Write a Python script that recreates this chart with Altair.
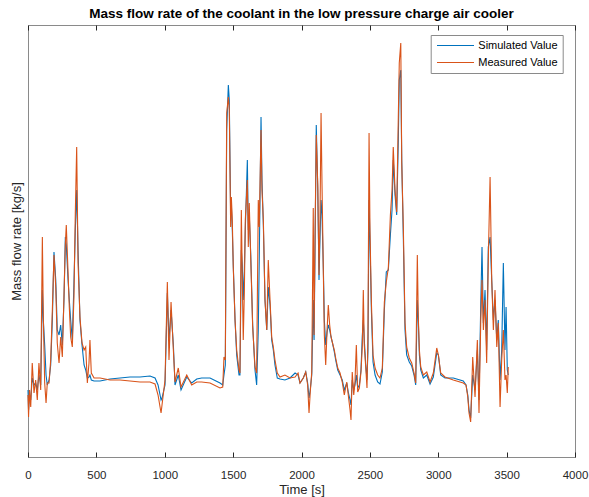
import altair as alt
import pandas as pd

# ---- data ----
time_s = [0, 4, 11, 20, 31, 44, 56, 68, 80, 93,
          105, 112, 122, 132, 141, 154, 166, 178, 190, 203,
          214, 227, 239, 251, 263, 273, 280, 293, 302, 312,
          324, 336, 346, 356, 366, 380, 395, 410, 422, 434,
          446, 453, 463, 483, 527, 600, 673, 746, 819, 892,
          929, 951, 973, 980, 1002, 1019, 1031, 1046, 1063, 1075,
          1099, 1119, 1161, 1197, 1234, 1270, 1331, 1404, 1424, 1433,
          1443, 1453, 1465, 1472, 1482, 1487, 1494, 1501, 1514, 1526,
          1543, 1550, 1560, 1567, 1574, 1582, 1589, 1604, 1611, 1618,
          1629, 1643, 1660, 1672, 1684, 1691, 1704, 1711, 1721, 1733,
          1746, 1757, 1770, 1782, 1794, 1806, 1823, 1843, 1879, 1916,
          1953, 1975, 1989, 2013, 2031, 2045, 2055, 2064, 2075, 2086,
          2092, 2099, 2108, 2119, 2128, 2135, 2143, 2150, 2160, 2167,
          2177, 2187, 2196, 2206, 2216, 2225, 2240, 2250, 2265, 2282,
          2298, 2313, 2331, 2342, 2355, 2362, 2371, 2382, 2391, 2401,
          2411, 2423, 2435, 2445, 2452, 2459, 2470, 2479, 2486, 2494,
          2501, 2511, 2523, 2538, 2557, 2574, 2591, 2606, 2620, 2635,
          2650, 2662, 2671, 2684, 2696, 2708, 2715, 2726, 2733, 2745,
          2757, 2769, 2788, 2806, 2823, 2835, 2847, 2854, 2862, 2872,
          2891, 2916, 2940, 2964, 2989, 3001, 3018, 3049, 3110, 3183,
          3203, 3216, 3225, 3237, 3252, 3269, 3286, 3298, 3311, 3320,
          3330, 3342, 3354, 3366, 3379, 3391, 3403, 3415, 3428, 3439,
          3452, 3464, 3476, 3488, 3496, 3505, 3512]

measured_kg_s = [0.062, 0.040, 0.067, 0.050, 0.094, 0.064, 0.077, 0.057, 0.094, 0.067,
                 0.220, 0.140, 0.074, 0.054, 0.074, 0.074, 0.097, 0.147, 0.202, 0.170,
                 0.114, 0.094, 0.120, 0.100, 0.160, 0.212, 0.232, 0.184, 0.150, 0.120,
                 0.110, 0.160, 0.244, 0.310, 0.194, 0.140, 0.114, 0.107, 0.110, 0.074,
                 0.094, 0.117, 0.084, 0.079, 0.079, 0.077, 0.077, 0.076, 0.075, 0.075,
                 0.073, 0.062, 0.044, 0.052, 0.077, 0.175, 0.097, 0.155, 0.107, 0.075,
                 0.089, 0.070, 0.082, 0.072, 0.075, 0.075, 0.074, 0.069, 0.070, 0.100,
                 0.097, 0.344, 0.360, 0.347, 0.230, 0.260, 0.237, 0.190, 0.137, 0.107,
                 0.087, 0.084, 0.247, 0.180, 0.117, 0.164, 0.237, 0.277, 0.210, 0.254,
                 0.197, 0.130, 0.090, 0.084, 0.257, 0.230, 0.327, 0.267, 0.237, 0.157,
                 0.127, 0.197, 0.157, 0.120, 0.110, 0.097, 0.084, 0.080, 0.082, 0.079,
                 0.080, 0.084, 0.074, 0.079, 0.085, 0.072, 0.044, 0.065, 0.085, 0.249,
                 0.122, 0.222, 0.322, 0.272, 0.182, 0.235, 0.344, 0.272, 0.182, 0.122,
                 0.092, 0.127, 0.152, 0.132, 0.120, 0.115, 0.107, 0.099, 0.089, 0.084,
                 0.075, 0.062, 0.075, 0.062, 0.047, 0.037, 0.085, 0.062, 0.075, 0.112,
                 0.065, 0.069, 0.085, 0.112, 0.167, 0.112, 0.089, 0.069, 0.122, 0.324,
                 0.225, 0.155, 0.102, 0.089, 0.082, 0.079, 0.089, 0.155, 0.175, 0.189,
                 0.242, 0.267, 0.310, 0.267, 0.245, 0.340, 0.394, 0.414, 0.294, 0.227,
                 0.134, 0.110, 0.099, 0.094, 0.084, 0.074, 0.202, 0.140, 0.107, 0.090,
                 0.082, 0.085, 0.075, 0.084, 0.109, 0.102, 0.084, 0.080, 0.077, 0.074,
                 0.072, 0.060, 0.044, 0.035, 0.100, 0.060, 0.117, 0.044, 0.137, 0.177,
                 0.127, 0.157, 0.094, 0.197, 0.280, 0.177, 0.127, 0.167, 0.110, 0.134,
                 0.050, 0.097, 0.127, 0.077, 0.082, 0.064, 0.090]

simulated_kg_s = [0.067, 0.047, 0.062, 0.057, 0.079, 0.072, 0.074, 0.067, 0.082, 0.072,
                  0.167, 0.137, 0.112, 0.082, 0.072, 0.077, 0.092, 0.137, 0.205, 0.177,
                  0.127, 0.122, 0.132, 0.112, 0.157, 0.220, 0.212, 0.177, 0.157, 0.137,
                  0.117, 0.174, 0.227, 0.267, 0.207, 0.137, 0.112, 0.092, 0.087, 0.079,
                  0.080, 0.082, 0.077, 0.076, 0.076, 0.078, 0.079, 0.080, 0.080, 0.081,
                  0.079, 0.072, 0.057, 0.059, 0.072, 0.164, 0.117, 0.147, 0.112, 0.072,
                  0.082, 0.067, 0.080, 0.074, 0.078, 0.079, 0.079, 0.074, 0.072, 0.082,
                  0.092, 0.327, 0.372, 0.357, 0.242, 0.252, 0.227, 0.192, 0.137, 0.102,
                  0.082, 0.082, 0.207, 0.192, 0.157, 0.187, 0.227, 0.297, 0.227, 0.242,
                  0.202, 0.132, 0.087, 0.072, 0.127, 0.197, 0.340, 0.277, 0.232, 0.157,
                  0.127, 0.170, 0.152, 0.117, 0.107, 0.092, 0.079, 0.078, 0.077, 0.079,
                  0.084, 0.082, 0.074, 0.079, 0.085, 0.074, 0.059, 0.067, 0.082, 0.157,
                  0.117, 0.207, 0.332, 0.267, 0.177, 0.217, 0.257, 0.242, 0.187, 0.137,
                  0.112, 0.125, 0.132, 0.127, 0.120, 0.115, 0.105, 0.097, 0.087, 0.082,
                  0.077, 0.067, 0.074, 0.065, 0.057, 0.052, 0.077, 0.067, 0.072, 0.082,
                  0.069, 0.072, 0.087, 0.122, 0.137, 0.117, 0.092, 0.077, 0.107, 0.257,
                  0.215, 0.147, 0.095, 0.082, 0.075, 0.073, 0.085, 0.147, 0.185, 0.187,
                  0.222, 0.247, 0.297, 0.262, 0.242, 0.317, 0.377, 0.387, 0.297, 0.217,
                  0.127, 0.102, 0.095, 0.091, 0.082, 0.072, 0.157, 0.137, 0.102, 0.087,
                  0.079, 0.082, 0.073, 0.080, 0.104, 0.102, 0.082, 0.079, 0.079, 0.076,
                  0.072, 0.062, 0.047, 0.039, 0.082, 0.067, 0.107, 0.057, 0.154, 0.210,
                  0.134, 0.167, 0.107, 0.210, 0.220, 0.177, 0.137, 0.157, 0.117, 0.137,
                  0.077, 0.107, 0.194, 0.107, 0.150, 0.087, 0.082]

x_tick_values = [0, 500, 1000, 1500, 2000, 2500, 3000, 3500, 4000]
series_names = ["Simulated Value", "Measured Value"]
series_colors = ["#0072BD", "#D95319"]

n = min(len(time_s), len(measured_kg_s), len(simulated_kg_s))
df = pd.DataFrame({
    "Time": time_s[:n] + time_s[:n],
    "Value": simulated_kg_s[:n] + measured_kg_s[:n],
    "Series": [series_names[0]] * n + [series_names[1]] * n,
})

FONT = "Liberation Sans"
AX = "#262626"
BOX = "#8a8a8a"

color = alt.Color(
    "Series:N",
    scale=alt.Scale(domain=series_names, range=series_colors),
    legend=alt.Legend(
        title=None, orient="none", legendX=402.7, legendY=10, padding=5,
        symbolType="M-3.7,0H3.7", symbolSize=100, symbolStrokeWidth=1,
        symbolOffset=14.3, labelOffset=17.3, rowPadding=5,
        labelFontSize=11, labelFont=FONT, labelColor="#000", labelLimit=0,
        strokeColor=BOX, fillColor="white",
    ),
)

y = alt.Y(
    "Value:Q",
    scale=alt.Scale(domain=[0, 0.432], nice=False, zero=False),
    axis=alt.Axis(title="Mass flow rate [kg/s]", labels=False, ticks=False,
                  domain=False, grid=False, titlePadding=5, titleFont=FONT,
                  titleFontSize=13, titleFontWeight="normal", titleColor=AX),
)

xscale = alt.Scale(domain=[0, 4000], nice=False, zero=False)
x_bottom = alt.X(
    "Time:Q", scale=xscale,
    axis=alt.Axis(title="Time [s]", values=x_tick_values, orient="bottom",
                  offset=-5, tickSize=5, tickColor=AX, tickWidth=1,
                  domain=False, grid=False, labelPadding=12, titlePadding=3,
                  labelFont=FONT, labelFontSize=11.5, labelColor=AX, format="d",
                  titleFont=FONT, titleFontSize=13, titleFontWeight="normal",
                  titleColor=AX, labelFlush=False),
)
x_top = alt.X(
    "Time:Q", scale=xscale,
    axis=alt.Axis(title=None, values=x_tick_values, orient="top", offset=-5,
                  tickSize=5, tickColor=AX, tickWidth=1, labels=False,
                  domain=False, grid=False),
)

base = alt.Chart(df)
sim = base.transform_filter(alt.datum.Series == series_names[0]).mark_line(
    strokeWidth=1.1).encode(x=x_bottom, y=y, color=color)
mea = base.transform_filter(alt.datum.Series == series_names[1]).mark_line(
    strokeWidth=1.1).encode(x=x_top, y=y, color=color)

chart = alt.layer(sim, mea).resolve_axis(x="independent").properties(
    width=547, height=432,
    title=alt.Title("Mass flow rate of the coolant in the low pressure charge air cooler",
                    font=FONT, fontSize=13.5, fontWeight="bold", color="#000",
                    anchor="middle", offset=4),
    padding={"left": 28, "top": 25, "right": 14, "bottom": 40},
    autosize=alt.AutoSizeParams(type="none"),
).configure_view(stroke=BOX, strokeWidth=1)

chart.save("out.html", embed_options={"renderer": "svg", "actions": False})
